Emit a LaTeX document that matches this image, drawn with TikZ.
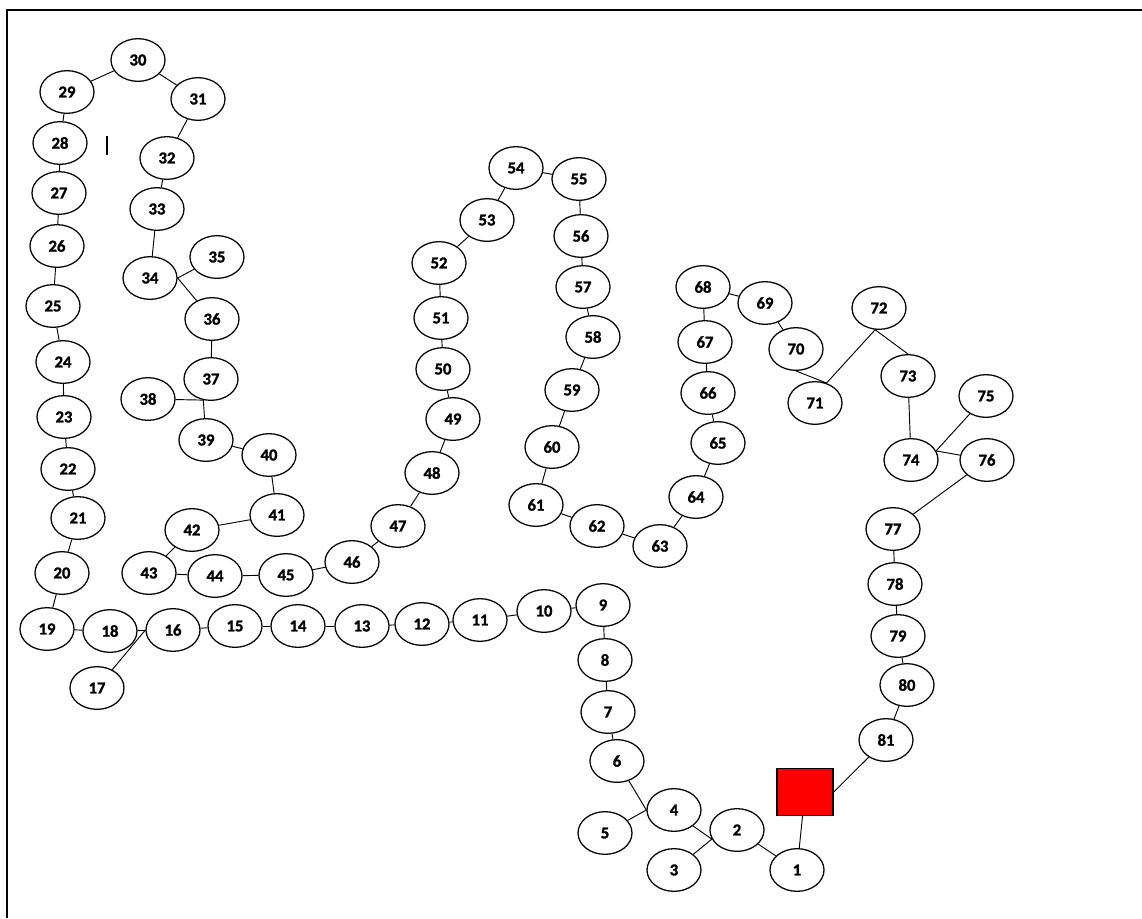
\documentclass[tikz,border=0pt]{standalone}
\usepackage{fontspec}
\setmainfont{Carlito}[BoldFeatures={FakeBold=1.5}]
\usetikzlibrary{shapes.geometric}

\begin{document}
\begin{tikzpicture}[
        x=0.75pt, y=-0.75pt,
        stop/.style={draw, ellipse, line width=0.95pt, inner sep=0pt,
            minimum width=40.5pt, minimum height=32pt,
            font=\fontsize{12.5}{12.5}\selectfont\bfseries},
        base/.style={draw, fill=red, line width=0.95pt,
            minimum width=42pt, minimum height=35pt},
        link/.style={line width=0.7pt},
        frame/.style={line width=1.5pt}
    ]

        \useasboundingbox (0,0) rectangle (1142,918);

        % Frame (top and left only)
        \draw[frame] (1142,10) -- (7,10) -- (7,918);

        % Start
        \node[base] (base) at (805,792) {};

        % Stops 1--19
        \node[stop] (n1) at (797,870) {1};
        \node[stop] (n2) at (737,830) {2};
        \node[stop] (n3) at (674,870) {3};
        \node[stop] (n4) at (674,810) {4};
        \node[stop] (n5) at (605,833) {5};
        \node[stop] (n6) at (617,761) {6};
        \node[stop] (n7) at (608,712) {7};
        \node[stop] (n8) at (605,660) {8};
        \node[stop] (n9) at (603,605) {9};
        \node[stop] (n10) at (544,611) {10};
        \node[stop] (n11) at (480,620) {11};
        \node[stop] (n12) at (422,624) {12};
        \node[stop] (n13) at (362,626) {13};
        \node[stop] (n14) at (298,626) {14};
        \node[stop] (n15) at (235,626) {15};
        \node[stop] (n16) at (173,630) {16};
        \node[stop] (n17) at (97,688) {17};
        \node[stop] (n18) at (110,631) {18};
        \node[stop] (n19) at (47,629) {19};

        % Stops 20--35
        \node[stop] (n20) at (62,573) {20};
        \node[stop] (n21) at (78,518) {21};
        \node[stop] (n22) at (68,469) {22};
        \node[stop] (n23) at (64,417) {23};
        \node[stop] (n24) at (63,362) {24};
        \node[stop] (n25) at (53,306) {25};
        \node[stop] (n26) at (57,246) {26};
        \node[stop] (n27) at (59,193) {27};
        \node[stop] (n28) at (60,143) {28};
        \node[stop] (n29) at (67,92) {29};
        \node[stop] (n30) at (138,60) {30};
        \node[stop] (n31) at (198,99) {31};
        \node[stop] (n32) at (167,158) {32};
        \node[stop] (n33) at (157,209) {33};
        \node[stop] (n34) at (150,278) {34};
        \node[stop] (n35) at (217,257) {35};

        % Stops 36--53
        \node[stop] (n36) at (212,319) {36};
        \node[stop] (n37) at (211,379) {37};
        \node[stop] (n38) at (148,399) {38};
        \node[stop] (n39) at (206,440) {39};
        \node[stop] (n40) at (269,455) {40};
        \node[stop] (n41) at (277,515) {41};
        \node[stop] (n42) at (192,530) {42};
        \node[stop] (n43) at (149,573) {43};
        \node[stop] (n44) at (215,576) {44};
        \node[stop] (n45) at (286,575) {45};
        \node[stop] (n46) at (352,562) {46};
        \node[stop] (n47) at (398,526) {47};
        \node[stop] (n48) at (432,473) {48};
        \node[stop] (n49) at (453,419) {49};
        \node[stop] (n50) at (443,369) {50};
        \node[stop] (n51) at (441,318) {51};
        \node[stop] (n52) at (439,263) {52};
        \node[stop] (n53) at (487,220) {53};

        % Stops 54--68
        \node[stop] (n54) at (516,168) {54};
        \node[stop] (n55) at (579,179) {55};
        \node[stop] (n56) at (581,236) {56};
        \node[stop] (n57) at (583,287) {57};
        \node[stop] (n58) at (593,337) {58};
        \node[stop] (n59) at (572,390) {59};
        \node[stop] (n60) at (552,447) {60};
        \node[stop] (n61) at (536,505) {61};
        \node[stop] (n62) at (597,526) {62};
        \node[stop] (n63) at (660,546) {63};
        \node[stop] (n64) at (696,497) {64};
        \node[stop] (n65) at (718,443) {65};
        \node[stop] (n66) at (708,393) {66};
        \node[stop] (n67) at (705,342) {67};
        \node[stop] (n68) at (703,287) {68};

        % Stops 69--81
        \node[stop] (n69) at (765,303) {69};
        \node[stop] (n70) at (796,349) {70};
        \node[stop] (n71) at (815,403) {71};
        \node[stop] (n72) at (879,308) {72};
        \node[stop] (n73) at (908,376) {73};
        \node[stop] (n74) at (911,460) {74};
        \node[stop] (n75) at (986,396) {75};
        \node[stop] (n76) at (987,460) {76};
        \node[stop] (n77) at (893,529) {77};
        \node[stop] (n78) at (895,584) {78};
        \node[stop] (n79) at (898,636) {79};
        \node[stop] (n80) at (907,685) {80};
        \node[stop] (n81) at (886,740) {81};

        % Stray mark
        \draw[line width=1.4pt] (107,136) -- (107,155);

        % Links, start to 19
        \draw[link] (base) -- (n1);
        \draw[link] (n1) -- (n2);
        \draw[link] (n3) -- (n2.200);
        \draw[link] (n4.-40) -- (n2.200);
        \draw[link] (n5) -- (n4.west);
        \draw[link] (n6) -- (n4.west);
        \draw[link] (n6) -- (n7);
        \draw[link] (n7) -- (n8);
        \draw[link] (n8) -- (n9);
        \draw[link] (n9) -- (n10);
        \draw[link] (n10) -- (n11);
        \draw[link] (n11) -- (n12);
        \draw[link] (n12) -- (n13);
        \draw[link] (n13) -- (n14);
        \draw[link] (n14) -- (n15);
        \draw[link] (n15) -- (n16);
        \draw[link] (n17) -- (n16.west);
        \draw[link] (n16) -- (n18);
        \draw[link] (n18) -- (n19);

        % Links, 19 to 35
        \draw[link] (n19) -- (n20);
        \draw[link] (n20) -- (n21);
        \draw[link] (n21) -- (n22);
        \draw[link] (n22) -- (n23);
        \draw[link] (n23) -- (n24);
        \draw[link] (n24) -- (n25);
        \draw[link] (n25) -- (n26);
        \draw[link] (n26) -- (n27);
        \draw[link] (n27) -- (n28);
        \draw[link] (n28) -- (n29);
        \draw[link] (n29) -- (n30);
        \draw[link] (n30) -- (n31);
        \draw[link] (n31) -- (n32);
        \draw[link] (n32) -- (n33);
        \draw[link] (n33) -- (n34);
        \draw[link] (n35) -- (n34.east);
        \draw[link] (n34.east) -- (n36);

        % Links, 36 to 53
        \draw[link] (n36) -- (n37);
        \draw[link] (n38) -- (n37.250);
        \draw[link] (n37.250) -- (n39);
        \draw[link] (n39) -- (n40);
        \draw[link] (n40) -- (n41);
        \draw[link] (n41) -- (n42);
        \draw[link] (n42) -- (n43);
        \draw[link] (n43) -- (n44);
        \draw[link] (n44) -- (n45);
        \draw[link] (n45) -- (n46);
        \draw[link] (n46) -- (n47);
        \draw[link] (n47) -- (n48);
        \draw[link] (n48) -- (n49);
        \draw[link] (n49) -- (n50);
        \draw[link] (n50) -- (n51);
        \draw[link] (n51) -- (n52);
        \draw[link] (n52) -- (n53);

        % Links, 53 to 68
        \draw[link] (n53) -- (n54);
        \draw[link] (n54) -- (n55);
        \draw[link] (n55) -- (n56);
        \draw[link] (n56) -- (n57);
        \draw[link] (n57) -- (n58);
        \draw[link] (n58) -- (n59);
        \draw[link] (n59) -- (n60);
        \draw[link] (n60) -- (n61);
        \draw[link] (n61) -- (n62);
        \draw[link] (n62) -- (n63);
        \draw[link] (n63) -- (n64);
        \draw[link] (n64) -- (n65);
        \draw[link] (n65) -- (n66);
        \draw[link] (n66) -- (n67);
        \draw[link] (n67) -- (n68);

        % Links, 68 back to start
        \draw[link] (n68) -- (n69);
        \draw[link] (n69) -- (n70);
        \draw[link] (n70.south) -- (n71.60);
        \draw[link] (n72.260) -- (n71.60);
        \draw[link] (n72.260) -- (n73.north);
        \draw[link] (n73) -- (n74);
        \draw[link] (n75) -- (n74.20);
        \draw[link] (n76) -- (n74.20);
        \draw[link] (n76) -- (n77);
        \draw[link] (n77) -- (n78);
        \draw[link] (n78) -- (n79);
        \draw[link] (n79) -- (n80);
        \draw[link] (n80) -- (n81);
        \draw[link] (n81) -- (base.east);

    \end{tikzpicture}
\end{document}
